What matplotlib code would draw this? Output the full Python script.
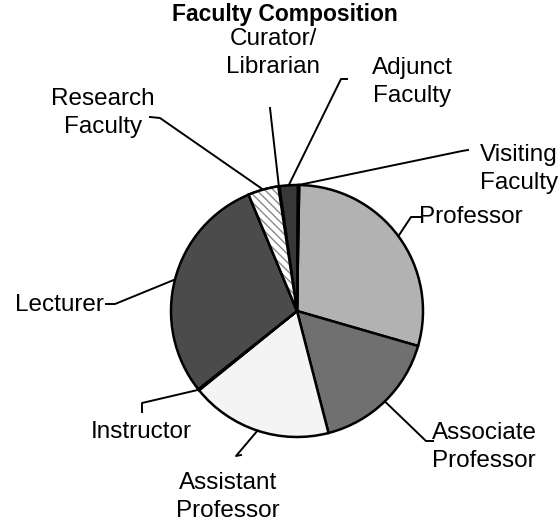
import numpy as np
import matplotlib.pyplot as plt
from matplotlib.patches import Wedge

plt.rcParams['font.family'] = ['Liberation Sans', 'DejaVu Sans']

# share of faculty, percent
categories = ['Professor', 'Associate Professor', 'Assistant Professor', 'Instructor',
              'Lecturer', 'Research Faculty', 'Curator/Librarian', 'Adjunct Faculty',
              'Visiting Faculty']
shares = [29.2, 16.5, 18.2, 0.15, 29.4, 3.9, 0.15, 2.35, 0.15]
label_text = ['Professor', 'Associate\nProfessor', 'Assistant\nProfessor', 'Instructor',
              'Lecturer', 'Research\nFaculty', 'Curator/\nLibrarian', 'Adjunct\nFaculty',
              'Visiting\nFaculty']
colors = ['#b2b2b2', '#707070', '#f4f4f4', '#e0e0e0', '#4b4b4b', '#ffffff',
          '#c8c8c8', '#383838', '#d0d0d0']

W, H = 558, 525


def img(x, y):
    # picture coordinates (y down) -> axes data coordinates (y up)
    return x, H - y


fig = plt.figure(figsize=(W / 100, H / 100), dpi=100)
ax = fig.add_axes([0, 0, 1, 1])

cx, cy = img(297, 311)
r = 126
wedges, _ = ax.pie(shares, colors=colors, startangle=89, counterclock=False,
                   center=(cx, cy), radius=r, frame=True,
                   wedgeprops=dict(edgecolor='black', linewidth=1.8))
ax.set_xlim(0, W)
ax.set_ylim(0, H)
ax.set_aspect('equal')
ax.axis('off')

# hatched research slice
rw = wedges[5]
ax.add_patch(Wedge((cx, cy), r, rw.theta1, rw.theta2, facecolor='white',
                   edgecolor='#8a8a8a', hatch='\\\\\\\\', linewidth=0, zorder=2))
ax.add_patch(Wedge((cx, cy), r, rw.theta1, rw.theta2, facecolor='none',
                   edgecolor='black', linewidth=1.8, zorder=3))

# label placement (picture coords) and leader anchor points
label_pos = [(471, 217), (484, 447), (228, 497), (141, 432), (59, 305),
             (103, 113), (273, 53), (412, 82), (519, 169)]
leaders = [
    [(420, 217), (411, 217)],
    [(433, 441), (426, 441)],
    [(241, 455), (236, 456)],
    [(142, 412), (142, 403)],
    [(106, 304), (115, 304)],
    [(150, 117), (160, 118)],
    [(270, 108)],
    [(347, 79), (341, 79)],
    [(468, 150), (462, 151)],
]

for w, txt, pos, pts in zip(wedges, label_text, label_pos, leaders):
    mid = np.radians((w.theta1 + w.theta2) / 2)
    ex, ey = cx + r * np.cos(mid), cy + r * np.sin(mid)
    xs = [img(*p)[0] for p in pts] + [ex]
    ys = [img(*p)[1] for p in pts] + [ey]
    ax.plot(xs, ys, color='black', linewidth=1.4, zorder=1)
    ax.text(*img(*pos), txt, ha='center', va='center', fontsize=17.5,
            linespacing=1.3 if txt.startswith('Curator') else 1.4)

ax.text(*img(285, 15), 'Faculty Composition', ha='center', va='center',
        fontsize=16.5, fontweight='bold')

fig.savefig('out.png', dpi=100)
